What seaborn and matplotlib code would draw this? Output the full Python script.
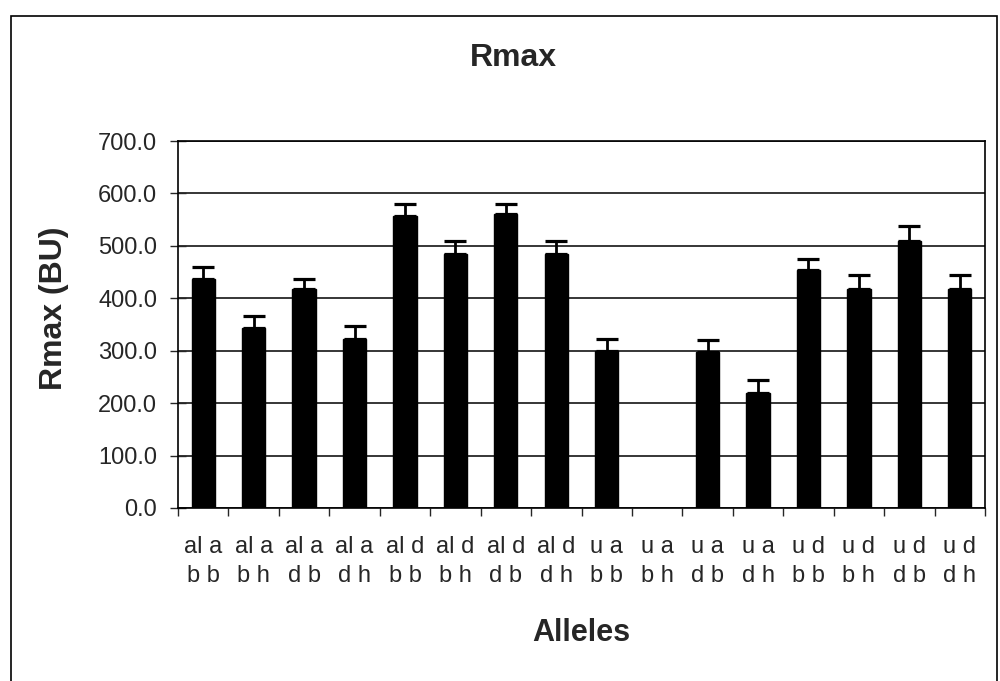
import matplotlib
matplotlib.use("Agg")
import matplotlib.pyplot as plt
import seaborn as sns
import numpy as np
import pandas as pd
from matplotlib.patches import Rectangle

top_line = ["al a", "al a", "al a", "al a", "al d", "al d", "al d", "al d",
            "u a", "u a", "u a", "u a", "u d", "u d", "u d", "u d"]
bottom_line = ["b b", "b h", "d b", "d h"] * 4
categories = [f"{t}\n{b}" for t, b in zip(top_line, bottom_line)]
rmax = [436, 344, 417, 323, 557, 484, 560, 484, 300, 0, 297, 220, 453, 418, 509, 418]
err = [24, 23, 20, 25, 23, 25, 20, 25, 23, 0, 23, 25, 21, 26, 29, 26]
y_ticks = [0, 100, 200, 300, 400, 500, 600, 700]

sns.set_theme(style="white")
plt.rcParams['font.family'] = ['Liberation Sans', 'DejaVu Sans']

fig = plt.figure(figsize=(10, 6.81), dpi=100)
ax = fig.add_axes([0.178, 1 - 508 / 681, 0.807, 367 / 681])

df = pd.DataFrame({"cat": categories, "val": rmax})
sns.barplot(data=df, x="cat", y="val", color="black", width=0.46,
            errorbar=None, ax=ax, saturation=1, zorder=3)
for p in ax.patches:
    p.set_edgecolor("black")

xs = np.arange(len(categories))
mask = np.array(rmax) > 0
ax.errorbar(xs[mask], np.array(rmax)[mask],
            yerr=[np.zeros(mask.sum()), np.array(err)[mask]],
            fmt="none", ecolor="black", elinewidth=2, capsize=8, capthick=2.3, zorder=4)

ax.set_ylim(0, 700)
ax.set_xlim(-0.5, len(categories) - 0.5)
ax.set_yticks(y_ticks)
ax.set_yticklabels([f"{v:.1f}" for v in y_ticks], fontsize=17)
ax.yaxis.grid(True, color="black", linewidth=1.1)
ax.set_axisbelow(True)
ax.tick_params(axis="y", direction="inout", length=12, width=1, left=True, pad=9)

ax.set_xticks(xs)
ax.set_xticklabels(categories, fontsize=17, linespacing=1.4)
ax.tick_params(axis="x", length=0, pad=20)
ax.set_xticks(np.arange(len(categories) + 1) - 0.5, minor=True)
ax.tick_params(axis="x", which="minor", direction="out", length=6, width=1, bottom=True)

for s in ax.spines.values():
    s.set_color("black")
    s.set_linewidth(1.2)

ax.set_xlabel("")
ax.set_ylabel("")
fig.text(581 / 1000, 1 - 633 / 681, "Alleles", ha="center", va="center",
         fontsize=22, fontweight="bold")
fig.text(54 / 1000, 1 - 308 / 681, "Rmax (BU)", ha="center", va="center",
         rotation=90, fontsize=23, fontweight="bold")
fig.text(513 / 1000, 1 - 58 / 681, "Rmax", ha="center", va="center",
         fontsize=23, fontweight="bold")

fig.patches.append(Rectangle((0.011, -0.01), 0.986, 1 - 16 / 681 + 0.01,
                             transform=fig.transFigure, fill=False,
                             edgecolor="black", linewidth=1.2))

fig.savefig("out.png", dpi=100)
